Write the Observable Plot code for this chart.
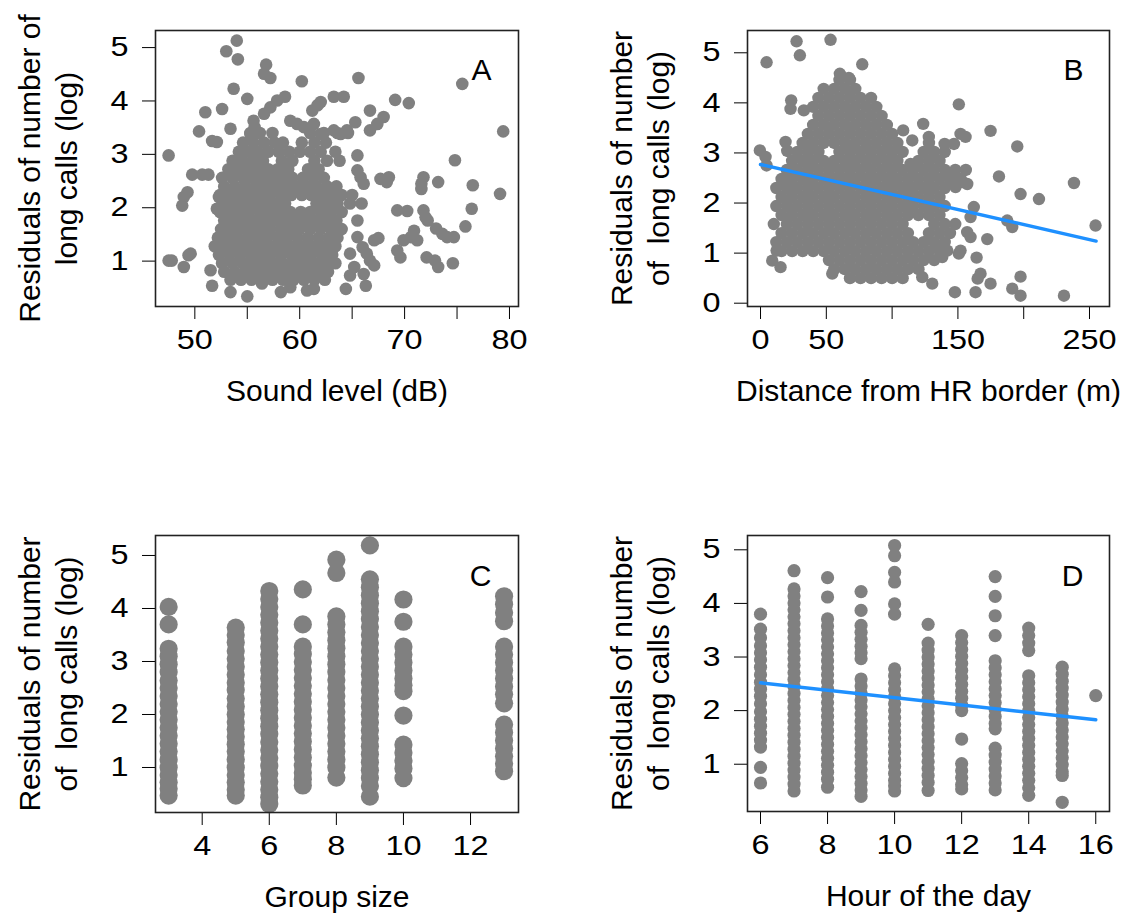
<!DOCTYPE html>
<html>
<head>
<meta charset="utf-8">
<script src="https://cdn.jsdelivr.net/npm/d3@7"></script>
<script src="https://cdn.jsdelivr.net/npm/@observablehq/plot@0.6"></script>
<style>
  html, body { margin: 0; padding: 0; background: #fff; }
  #wrap { position: relative; width: 1137px; height: 913px; overflow: hidden; background: #fff; }
  #wrap svg { position: absolute; }
</style>
</head>
<body>
<div id="wrap"></div>
<script>
// ---------- Panel A: Sound level (dB) vs residuals ----------
const soundScattered = [
  [54.0,5.13],[53.0,4.93],[54.1,4.78],[56.8,4.68],[56.6,4.51],[57.2,4.43],[60.2,4.37],[65.6,4.43],[75.5,4.32],
  [53.7,4.23],[55.0,4.04],[57.85,4.01],[58.6,4.08],[63.25,4.08],[64.2,4.08],[61.7,3.92],[62.0,3.98],[61.2,3.82],
  [69.1,4.02],[70.4,3.96],[51.0,3.79],[52.6,3.85],[57.2,3.88],[56.6,3.76],[66.7,3.82],[68.0,3.70],[67.4,3.57],
  [66.7,3.45],[65.3,3.60],[50.4,3.43],[51.65,3.25],[52.1,3.23],[53.4,3.48],[79.4,3.43],[55.6,3.63],[55.7,3.51],
  [55.3,3.38],[59.1,3.63],[59.75,3.57],[60.4,3.51],[63.25,3.45],[63.9,3.38],[64.5,3.45],[62.0,3.38],[61.35,3.57],
  [47.5,2.98],[49.75,2.62],[50.7,2.62],[51.3,2.62],[49.3,2.29],[48.95,2.20],[48.8,2.04],[65.5,2.98],[65.5,2.70],
  [65.8,2.57],[66.1,2.45],[67.7,2.54],[68.3,2.48],[68.5,2.57],[71.8,2.57],[71.6,2.45],[71.6,2.35],[73.2,2.48],
  [74.8,2.89],[76.5,2.42],[79.1,2.26],[76.4,1.98],[75.8,1.65],[69.3,1.95],[70.25,1.94],[71.8,1.95],[72.0,1.82],
  [72.2,1.76],[73.0,1.61],[73.6,1.51],[74.05,1.45],[74.7,1.45],[70.9,1.57],[70.6,1.45],[71.2,1.39],[69.9,1.39],
  [69.3,1.20],[69.6,1.07],[72.1,1.07],[72.9,1.01],[73.2,0.89],[74.6,0.96],[65.5,1.76],[65.5,1.45],[66.0,1.26],
  [66.4,1.14],[67.1,1.39],[67.5,1.43],[64.8,1.14],[65.2,0.89],[64.8,0.73],[66.1,0.76],[67.1,0.92],[66.7,1.01],
  [66.3,0.54],[64.4,0.48],[47.5,1.01],[47.8,1.01],[48.95,0.89],[49.4,1.11],[49.6,1.14],[51.5,0.83],[51.65,0.54],
  [52.1,1.98],[52.3,2.20],[53.4,0.42],[55.0,0.34],[58.2,0.42],[59.1,0.51],[60.7,0.45],[61.35,0.48],[56.4,0.58]
];
// dense cloud, read row by row: [residual, [sound levels]]
const soundDenseRows = [
  [3.40, [55.3,56.2,57.4,61.0,62.3,63.6,64.6]],
  [3.22, [54.6,55.6,56.6,57.6,58.4,60.2,61.4,62.5]],
  [3.05, [54.2,55.1,56.0,57.0,58.0,59.0,60.0,61.0,62.0,63.4]],
  [2.88, [53.6,54.5,55.5,56.5,58.3,59.3,61.4,62.6,63.8]],
  [2.72, [53.2,54.1,55.0,56.0,57.0,57.9,58.9,60.8,61.8]],
  [2.56, [52.6,53.6,54.6,55.5,56.4,57.4,58.3,59.3,60.3,61.3,62.3]],
  [2.40, [52.8,53.8,54.8,55.8,56.8,57.7,58.7,59.7,60.6,61.6,62.6,63.5]],
  [2.24, [52.4,53.3,54.3,55.3,56.3,57.2,58.2,59.2,60.2,61.1,62.1,63.1,64.0,65.0]],
  [2.08, [52.7,53.7,54.7,55.7,56.7,57.6,58.6,61.6,62.6,63.6,64.8,65.9]],
  [1.92, [52.4,53.3,54.3,55.2,56.2,57.2,58.1,59.1,60.1,61.0,62.0,63.0,64.0]],
  [1.76, [52.8,53.8,54.7,55.7,56.7,57.7,58.6,59.6,60.5,61.5,62.5,63.5]],
  [1.60, [52.5,53.4,54.3,55.3,56.2,57.2,58.2,59.1,60.0,61.0,62.0,63.0,64.0]],
  [1.44, [52.2,53.1,54.0,55.0,56.0,56.9,57.9,58.8,59.8,60.8,61.8,62.8,63.6]],
  [1.28, [51.9,52.8,53.7,54.7,55.6,56.6,57.6,58.5,59.5,60.5,61.5,62.5,63.4]],
  [1.12, [52.3,53.3,54.3,55.3,56.2,57.2,58.2,59.2,60.1,61.1,62.1,63.1]],
  [0.96, [52.6,53.6,54.6,55.5,56.5,57.5,58.4,59.4,60.4,61.4,62.4,63.4]],
  [0.80, [52.8,53.8,54.8,55.8,56.8,57.7,58.7,59.7,60.7,61.7,62.7]],
  [0.65, [53.4,54.4,55.4,56.4,57.4,58.4,59.4,60.4,61.4,62.4]]
];

// ---------- Panel B: Distance from HR border (m) ----------
const distScattered = [
  [27.4,5.23],[53.2,5.26],[29.9,4.95],[4.6,4.81],[77.3,4.77],[60.3,4.58],[67.1,4.50],[150.7,3.97],[174.8,3.44],
  [123.6,3.58],[127.9,3.32],[108.4,3.45],[115.3,3.25],[195.1,3.13],[152,3.38],[155.8,3.32],[139.9,3.18],[147,3.18],
  [23.3,4.05],[22.8,3.88],[32.9,3.85],[19,3.22],[20.3,3.04],[-0.5,3.05],[3.8,2.92],[4.6,2.75],[181.2,2.53],
  [197.6,2.18],[211.6,2.08],[238.2,2.40],[254.6,1.55],[114,2.78],[162.1,1.92],[159.6,1.72],[157,1.42],[159.6,1.32],
  [172.3,1.28],[187.5,1.65],[191.3,1.52],[164.2,0.91],[167.2,0.59],[174.8,0.39],[165,0.49],[147.7,0.22],[163.4,0.22],
  [197.6,0.53],[191.3,0.29],[197.6,0.15],[230.6,0.15],[10.1,1.58],[8.9,0.85],[15.2,0.72],[12.2,1.05],[54.5,0.59],
  [148.2,2.32],[153.3,2.42],[157.1,2.38],[141.9,1.05],[150.7,0.99],[152,1.05],[134.3,1.12],[138.1,0.92],
  [130.5,0.39],[122.9,0.52]
];
const distDenseRows = [
  [4.46, [60,68]],
  [4.28, [48,56,64,72]],
  [4.10, [44,52,60,68,76,84]],
  [3.92, [40,48,56,64,72,80,88]],
  [3.74, [44,52,60,68,76,84,92]],
  [3.56, [40,48,56,64,72,80,88,96]],
  [3.38, [36,44,52,60,68,76,84,92,100]],
  [3.20, [32,40,48,56,64,72,80,88,96,104,128]],
  [3.02, [28,36,44,60,68,76,84,92,100,108,124,132,140]],
  [2.84, [24,32,40,48,56,64,72,80,88,96,104,120,128,136]],
  [2.66, [20,28,36,44,52,60,68,76,84,92,100,108,116,124,132,140,148,156]],
  [2.48, [16,24,32,40,48,56,64,72,80,88,96,104,112,120,128,136,144,152]],
  [2.30, [12,20,28,36,44,52,60,68,76,84,92,100,108,116,124,132,140]],
  [2.12, [16,24,32,40,48,56,64,72,80,88,96,104,112,120,128,136]],
  [1.94, [12,20,28,36,44,52,60,68,76,84,92,100,108,116,124,132,140]],
  [1.76, [16,24,32,40,48,56,64,72,80,88,96,104,112,120,128,136]],
  [1.58, [20,28,36,44,52,60,68,76,84,92,100,108,132,140,148]],
  [1.40, [16,24,32,40,48,56,64,72,80,88,96,104,112,128,136,144]],
  [1.22, [12,20,28,36,44,52,60,68,76,84,92,100,108,116,124,132,140]],
  [1.04, [16,24,32,40,48,56,64,72,80,88,96,104,112,120,128,136]],
  [0.86, [52,60,68,76,84,92,100,108,116,124,132]],
  [0.68, [56,64,72,80,88,96,104,112,120]],
  [0.50, [68,76,84,92,100,108]]
];
const distTrend = [[0, 2.77], [255, 1.24]];

// ---------- Panel C: Group size ----------
const groupSizes = [3, 5, 6, 7, 8, 9, 10, 13];
const groupResiduals = [
  [4.03,3.70,3.24,3.10,2.95,2.80,2.64,2.50,2.35,2.20,2.05,1.90,1.75,1.60,1.45,1.30,1.15,1.00,0.86,0.72,0.60,0.47],
  [3.64,3.50,3.36,3.20,3.05,2.90,2.75,2.60,2.46,2.30,2.15,2.00,1.86,1.72,1.58,1.44,1.30,1.15,1.00,0.86,0.72,0.58,0.47],
  [4.33,4.18,4.03,3.88,3.73,3.58,3.43,3.28,3.13,2.98,2.83,2.68,2.53,2.38,2.23,2.08,1.93,1.78,1.63,1.48,1.33,1.18,1.03,0.88,0.73,0.58,0.44,0.31],
  [4.36,3.70,3.28,3.14,2.99,2.84,2.69,2.54,2.39,2.24,2.09,1.94,1.79,1.64,1.49,1.34,1.19,1.04,0.90,0.78,0.66],
  [4.92,4.67,3.85,3.70,3.55,3.40,3.25,3.10,2.95,2.80,2.65,2.50,2.35,2.20,2.05,1.90,1.75,1.60,1.45,1.30,1.15,1.00,0.81],
  [5.19,4.55,4.40,4.25,4.10,3.95,3.80,3.65,3.50,3.35,3.20,3.05,2.90,2.75,2.60,2.45,2.30,2.15,2.00,1.85,1.70,1.55,1.40,1.25,1.10,0.95,0.80,0.65,0.45],
  [4.17,3.75,3.28,3.13,2.98,2.83,2.68,2.55,2.44,1.98,1.43,1.28,1.13,0.98,0.80],
  [4.23,4.08,3.92,3.76,3.28,3.13,2.98,2.83,2.68,2.53,2.38,2.21,1.81,1.66,1.51,1.36,1.21,1.07,0.93]
];

// ---------- Panel D: Hour of the day ----------
const hours = [6, 7, 8, 9, 10, 11, 12, 13, 14, 15, 16];
const hourResiduals = [
  [3.80,3.52,3.36,3.21,3.08,2.95,2.81,2.67,2.53,2.40,2.27,2.13,1.98,1.84,1.71,1.58,1.45,1.32,0.94,0.65],
  [4.61,4.27,4.14,4.01,3.88,3.75,3.62,3.49,3.36,3.23,3.10,2.97,2.84,2.71,2.58,2.45,2.32,2.19,2.06,1.93,1.80,1.67,1.54,1.41,1.28,1.15,1.02,0.89,0.76,0.63,0.50],
  [4.48,4.12,3.71,3.58,3.45,3.32,3.19,3.06,2.93,2.80,2.67,2.54,2.41,2.28,2.15,2.02,1.89,1.76,1.63,1.50,1.37,1.24,1.11,0.98,0.85,0.72,0.57],
  [4.22,3.87,3.59,3.46,3.33,3.20,3.08,2.97,2.59,2.46,2.33,2.20,2.07,1.94,1.81,1.68,1.55,1.42,1.29,1.16,1.03,0.90,0.77,0.64,0.52,0.40],
  [5.08,4.89,4.58,4.40,3.99,3.80,2.78,2.65,2.52,2.39,2.26,2.13,2.00,1.87,1.74,1.61,1.48,1.35,1.22,1.09,0.96,0.83,0.70,0.60,0.50],
  [3.61,3.26,3.13,3.00,2.87,2.74,2.61,2.48,2.35,2.22,2.09,1.96,1.83,1.70,1.57,1.44,1.31,1.18,1.05,0.92,0.79,0.66,0.51],
  [3.40,3.27,3.14,3.01,2.88,2.75,2.62,2.49,2.36,2.23,2.10,2.00,1.47,1.01,0.88,0.75,0.62,0.54],
  [4.50,4.13,3.77,3.40,2.93,2.80,2.67,2.54,2.41,2.28,2.15,2.02,1.89,1.76,1.66,1.30,1.17,1.04,0.91,0.78,0.65,0.52],
  [3.54,3.40,3.26,3.12,2.65,2.52,2.39,2.26,2.13,2.00,1.87,1.74,1.61,1.48,1.35,1.22,1.09,0.96,0.83,0.70,0.56,0.42],
  [2.81,2.68,2.55,2.42,2.29,2.16,2.03,1.90,1.77,1.64,1.51,1.38,1.25,1.12,0.99,0.86,0.79,0.29],
  [2.28]
];
const hourTrend = [[6, 2.52], [16, 1.83]];

// ---------- labels ----------
const yLabelA = "Residuals of number of\nlong calls (log)";
const yLabelOther = "Residuals of number\nof\u00a0 long calls (log)";
const xLabels = ["Sound level (dB)", "Distance from HR border (m)", "Group size", "Hour of the day"];
const panelLetters = ["A", "B", "C", "D"];

// ---------- build tables ----------
const rowsToPoints = (scattered, dense) =>
  scattered.map(([x, y]) => ({x, y})).concat(dense.flatMap(([y, xs]) => xs.map(x => ({x, y}))));
const columnsToPoints = (xs, cols) => cols.flatMap((ys, i) => ys.map(y => ({x: xs[i], y})));

const dataA = rowsToPoints(soundScattered, soundDenseRows);
const dataB = rowsToPoints(distScattered, distDenseRows);
const dataC = columnsToPoints(groupSizes, groupResiduals);
const dataD = columnsToPoints(hours, hourResiduals);

const FONT = '"Liberation Sans", Arial, Helvetica, sans-serif';
const wrap = document.getElementById("wrap");

function widenTickLabels(svg, sx) {
  svg.querySelectorAll('g[aria-label="x-axis tick label"] text').forEach(t => {
    const b = t.getBBox();
    const cx = b.x + b.width / 2;
    const tr = t.getAttribute("transform") || "";
    t.setAttribute("transform", `${tr} translate(${cx},0) scale(${sx},1) translate(${-cx},0)`);
  });
  svg.querySelectorAll('g[aria-label="y-axis tick label"] text').forEach(t => {
    const b = t.getBBox();
    const rx = b.x + b.width;
    const tr = t.getAttribute("transform") || "";
    t.setAttribute("transform", `${tr} translate(${rx},0) scale(${sx},1) translate(${-rx},0)`);
  });
}

function panel(cfg) {
  const svg = Plot.plot({
    width: cfg.w, height: cfg.h,
    marginLeft: cfg.mL, marginRight: cfg.mR, marginTop: cfg.mT, marginBottom: cfg.mB,
    style: {background: "transparent", fontFamily: FONT, fontSize: "27px", color: "#000", overflow: "visible"},
    x: {domain: cfg.xDomain, ticks: cfg.xTicks, tickFormat: cfg.xFormat, tickSize: 13, tickPadding: 10, label: null},
    y: {domain: cfg.yDomain, ticks: cfg.yTicks, tickFormat: d => String(d), tickSize: 13, tickPadding: 14, label: null},
    marks: [
      Plot.dot(cfg.data, {x: "x", y: "y", r: cfg.r, fill: "#808080"}),
      cfg.trend ? Plot.line(cfg.trend, {x: d => d[0], y: d => d[1], stroke: "#1E90FF", strokeWidth: 3.5}) : null,
      Plot.frame({stroke: "#222", strokeWidth: 1.6}),
      Plot.text([cfg.letter], {text: d => d, frameAnchor: "top-right", dx: cfg.letterDx, dy: cfg.letterDy,
        fontSize: 30, textAnchor: "middle", lineAnchor: "middle", fill: "#000"}),
      Plot.text([cfg.xLabel], {text: d => d, frameAnchor: "bottom", dy: 85, fontSize: 30,
        textAnchor: "middle", lineAnchor: "middle", fill: "#000"}),
      Plot.text([cfg.yLabel], {text: d => d, frameAnchor: "left", dx: -109, rotate: -90, fontSize: 30,
        textAnchor: "middle", lineAnchor: "middle", lineHeight: 1.25, fill: "#000"})
    ]
  });
  svg.style.position = "absolute";
  svg.style.left = cfg.left + "px";
  svg.style.top = cfg.top + "px";
  wrap.appendChild(svg);
  widenTickLabels(svg, 1.2);
}

panel({
  left: 0, top: 0, w: 568, h: 456, mL: 155, mR: 50, mT: 30, mB: 150,
  xDomain: [46.25, 80.86], xTicks: [50, 55, 60, 65, 70, 75, 80], xFormat: d => (d % 10 === 0 ? String(d) : ""),
  yDomain: [0.15, 5.32], yTicks: [1, 2, 3, 4, 5],
  data: dataA, r: 6.3, letter: panelLetters[0], letterDx: -37, letterDy: 40,
  xLabel: xLabels[0], yLabel: yLabelA
});
panel({
  left: 568, top: 0, w: 569, h: 456, mL: 179, mR: 28, mT: 30, mB: 150,
  xDomain: [-9.9, 265.2], xTicks: [0, 50, 100, 150, 200, 250], xFormat: d => (d === 100 || d === 200 ? "" : String(d)),
  yDomain: [-0.066, 5.445], yTicks: [0, 1, 2, 3, 4, 5],
  data: dataB, r: 6.2, trend: distTrend, letter: panelLetters[1], letterDx: -36, letterDy: 40,
  xLabel: xLabels[1], yLabel: yLabelOther
});
panel({
  left: 0, top: 456, w: 568, h: 457, mL: 155, mR: 50, mT: 79, mB: 101,
  xDomain: [2.608, 13.43], xTicks: [4, 6, 8, 10, 12], xFormat: d => String(d),
  yDomain: [0.151, 5.377], yTicks: [1, 2, 3, 4, 5],
  data: dataC, r: 9.1, letter: panelLetters[2], letterDx: -38, letterDy: 41,
  xLabel: xLabels[2], yLabel: yLabelOther
});
panel({
  left: 568, top: 456, w: 569, h: 457, mL: 179, mR: 28, mT: 79, mB: 102,
  xDomain: [5.612, 16.41], xTicks: [6, 8, 10, 12, 14, 16], xFormat: d => String(d),
  yDomain: [0.118, 5.267], yTicks: [1, 2, 3, 4, 5],
  data: dataD, r: 6.6, trend: hourTrend, letter: panelLetters[3], letterDx: -37, letterDy: 41,
  xLabel: xLabels[3], yLabel: yLabelOther
});
</script>
</body>
</html>
